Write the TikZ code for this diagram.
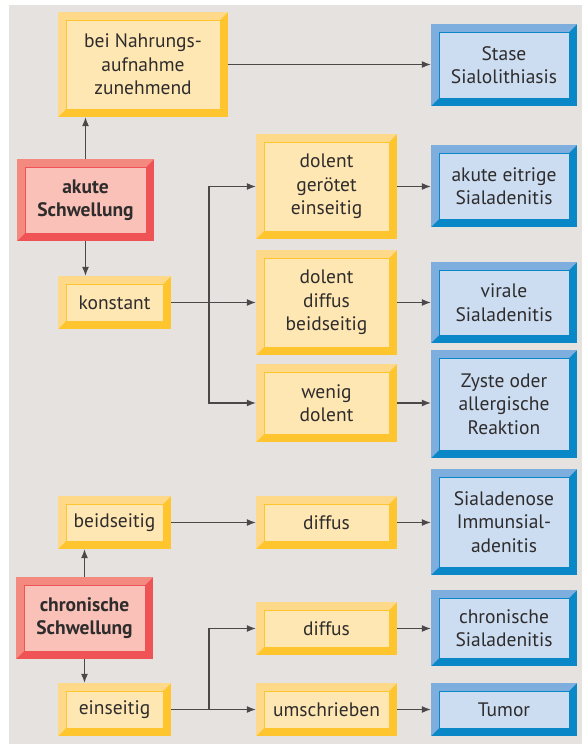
\documentclass[tikz,border=0pt]{standalone}
\usepackage{fontspec}
\setmainfont{PT Sans}
\usetikzlibrary{arrows.meta}
\definecolor{bg}{HTML}{E6E2E0}
\definecolor{txt}{HTML}{2E2C2C}
\definecolor{ln}{HTML}{4A4848}
\definecolor{Ylight}{HTML}{FFD98A}
\definecolor{Ydark}{HTML}{FFC52E}
\definecolor{Yfill}{HTML}{FFE7B4}
\definecolor{Rlight}{HTML}{F4897F}
\definecolor{Rdark}{HTML}{EF5356}
\definecolor{Rfill}{HTML}{F9C1B7}
\definecolor{Blight}{HTML}{7DAEDD}
\definecolor{Bdark}{HTML}{0A87C6}
\definecolor{Bfill}{HTML}{CCDCF1}
\tikzset{
  boxtext/.style={align=center, inner sep=0pt, text=txt,
    font=\fontsize{19.5}{23.5}\selectfont},
  arr/.style={draw=ln, line width=1.2pt, -{Latex[length=9pt,width=7pt]}},
  plainln/.style={draw=ln, line width=1.2pt}
}
\newcommand\bevbox[7]{%
  \fill[#6dark] (#2,#3) rectangle (#4,#5);
  \fill[#6light] (#2,#3) -- (#4,#3) -- ({#4-8},{#3+8}) -- ({#2+8},{#3+8}) -- ({#2+8},{#5-8}) -- (#2,#5) -- cycle;
  \filldraw[fill=#6fill, draw=#6dark, line width=0.8pt] ({#2+8},{#3+8}) rectangle ({#4-8},{#5-8});
  \node[boxtext, minimum width={(#4-#2)*1pt}, minimum height={(#5-#3)*1pt}] (#1) at ({(#2+#4)/2},{(#3+#5)/2}) {#7};
}
\begin{document}
\begin{tikzpicture}[x=1pt,y=-1pt]
\useasboundingbox (0,0) rectangle (582,744);
\fill[white] (0,0) rectangle (582,744);
\fill[bg] (9,5) rectangle (582,744);
% top section
\bevbox{nahr}{58}{12}{228}{117}{Y}{bei Nahrungs-\\aufnahme\\zunehmend}
\bevbox{stase}{431}{24}{577}{106}{B}{Stase\\Sialolithiasis}
\bevbox{akut}{17}{159}{154}{241}{R}{\bfseries akute\\\bfseries Schwellung}
\bevbox{konst}{58}{276}{171}{329}{Y}{konstant}
\bevbox{dg}{256}{134}{397}{239}{Y}{dolent\\gerötet\\einseitig}
\bevbox{aes}{431}{145}{577}{227}{B}{akute eitrige\\Sialadenitis}
\bevbox{dd}{256}{250}{397}{355}{Y}{dolent\\diffus\\beidseitig}
\bevbox{vir}{431}{262}{577}{343}{B}{virale\\Sialadenitis}
\bevbox{wd}{256}{364}{397}{442}{Y}{wenig\\dolent}
\bevbox{zys}{431}{350}{577}{458}{B}{Zyste oder\\allergische\\Reaktion}
% bottom section
\bevbox{beid}{58}{496}{171}{549}{Y}{beidseitig}
\bevbox{diff1}{256}{496}{397}{549}{Y}{diffus}
\bevbox{sial}{431}{469}{577}{575}{B}{Sialadenose\\Immunsial-\\adenitis}
\bevbox{chron}{16}{577}{153}{659}{R}{\bfseries chronische\\\bfseries Schwellung}
\bevbox{eins}{58}{683}{171}{736}{Y}{einseitig}
\bevbox{diff2}{256}{602}{397}{655}{Y}{diffus}
\bevbox{chs}{431}{590}{577}{666}{B}{chronische\\Sialadenitis}
\bevbox{umsch}{256}{683}{397}{736}{Y}{umschrieben}
\bevbox{tum}{431}{683}{577}{736}{B}{Tumor}
% connectors top
\draw[arr] (nahr.east) -- (nahr.east -| stase.west);
\draw[arr] (akut.north) -- (akut.north |- nahr.south);
\draw[arr] (akut.south) -- (akut.south |- konst.north);
\coordinate (j1) at (209,302.5);
\draw[arr] (konst.east) -- (dd.west);
\draw[arr] (j1) |- (dg.west);
\draw[arr] (j1) |- (wd.west);
\draw[arr] (dg.east) -- (dg.east -| aes.west);
\draw[arr] (dd.east) -- (dd.east -| vir.west);
\draw[arr] (wd.east) -- (wd.east -| zys.west);
% connectors bottom
\draw[arr] (chron.north) -- (chron.north |- beid.south);
\draw[arr] (chron.south) -- (chron.south |- eins.north);
\draw[arr] (beid.east) -- (diff1.west);
\draw[arr] (diff1.east) -- (diff1.east -| sial.west);
\coordinate (j2) at (209,709.5);
\draw[arr] (eins.east) -- (umsch.west);
\draw[arr] (j2) |- (diff2.west);
\draw[arr] (diff2.east) -- (diff2.east -| chs.west);
\draw[arr] (umsch.east) -- (tum.west);
\end{tikzpicture}
\end{document}
